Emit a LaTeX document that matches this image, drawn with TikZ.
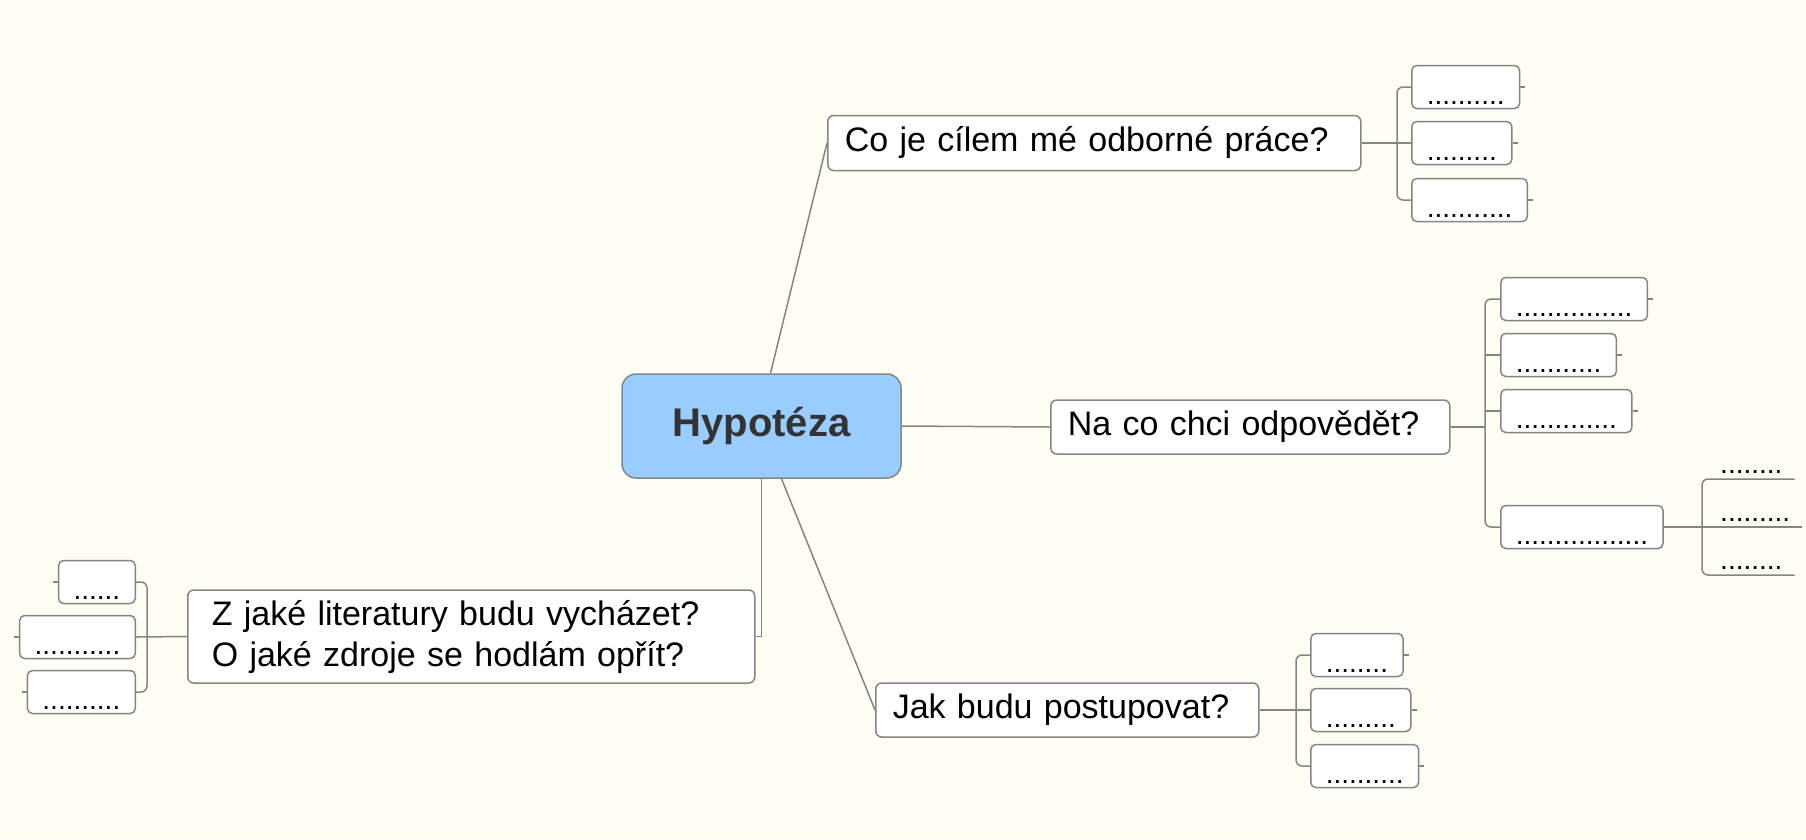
\documentclass[tikz,border=0pt]{standalone}
\usepackage{fontspec}
\setmainfont{Liberation Sans}
\usetikzlibrary{positioning,backgrounds}
\definecolor{papir}{HTML}{FEFEF4}
\definecolor{modra}{HTML}{99CCFF}
\definecolor{cara}{HTML}{858585}
\definecolor{pismo}{HTML}{333333}
\tikzstyle{vetev}=[draw=cara,line width=1.5pt]
\tikzstyle{otazka}=[rectangle,rounded corners=6pt,draw=cara,line width=1.5pt,fill=white,anchor=west,align=left,inner xsep=17pt,font=\fontsize{34}{41}\selectfont]
\tikzstyle{stred}=[rectangle,rounded corners=14pt,draw=cara,line width=1.5pt,fill=modra,text=pismo,minimum width=279pt,minimum height=104pt,font=\bfseries\fontsize{40}{48}\selectfont]
\tikzstyle{list}=[rectangle,rounded corners=5pt,draw=cara,line width=1.5pt,fill=white,minimum height=43pt,inner xsep=15pt,inner ysep=3pt,text height=35pt,text depth=0pt,anchor=west,font=\fontsize{28}{34}\selectfont]
\tikzstyle{listvlevo}=[list,anchor=east]
\tikzstyle{vetvicka}=[inner xsep=12pt,inner ysep=5pt,anchor=south west,font=\fontsize{28}{34}\selectfont]

\begin{document}
\begin{tikzpicture}[x=1pt,y=-1pt]
	\path[use as bounding box,fill=papir] (0,0) rectangle (1806,839);

	\node[stred] (hyp) at (761.5,426) {Hypotéza};
	\node[otazka,text width=499pt,minimum height=55pt] (coje) at (827,143) {Co je cílem mé odborné práce?};
	\node[otazka,text width=365pt,minimum height=54pt] (naco) at (1050,427) {Na co chci odpovědět?};
	\node[otazka,text width=349pt,minimum height=54pt] (jak) at (875,710) {Jak budu postupovat?};
	\node[otazka,inner xsep=24pt,text width=519pt,minimum height=93pt] (zdroje) at (187,636.5)
		{Z jaké literatury budu vycházet?\\O jaké zdroje se hodlám opřít?};

	% listy
	\node[list] (L1) at (1411,87) {..........};
	\node[list] (L2) at (1411,143) {.........};
	\node[list] (L3) at (1411,200) {...........};
	\node[list] (M1) at (1500,299) {...............};
	\node[list] (M2) at (1500,355) {...........};
	\node[list] (M3) at (1500,411) {.............};
	\node[list] (M4) at (1500,527) {.................};
	\node[list] (J1) at (1310,655) {........};
	\node[list] (J2) at (1310,710) {.........};
	\node[list] (J3) at (1310,766) {..........};
	\node[listvlevo] (Z1) at (136,582) {......};
	\node[listvlevo] (Z2) at (136,637) {...........};
	\node[listvlevo] (Z3) at (136,692) {..........};
	\node[vetvicka] (N1) at (1708,479) {........};
	\node[vetvicka] (N2) at (1708,527) {.........};
	\node[vetvicka] (N3) at (1708,575) {........};

	\coordinate (cobr) at (1397,143);
	\coordinate (nabr) at (1485,427);
	\coordinate (jabr) at (1296,710);
	\coordinate (zbr) at (147,637);
	\coordinate (m4br) at (1702,527);

	\begin{scope}[vetev]
		\draw ([xshift=9pt]hyp.north) -- (coje.west);
		\draw (hyp.east) -- (naco.west);
		\draw ([xshift=20pt]hyp.south) -- (jak.west);
		\draw (hyp.south) |- (zdroje.east);

		\draw (coje.east) -- (L2.west);
		\draw[rounded corners=6pt] (L1.west) -| (cobr) |- (L3.west);
		\draw (naco.east) -- (nabr);
		\draw[rounded corners=6pt] (M1.west) -| (nabr) |- (M4.west);
		\draw (M2.west) -- (M2.west -| nabr);
		\draw (M3.west) -- (M3.west -| nabr);
		\draw (jak.east) -- (J2.west);
		\draw[rounded corners=6pt] (J1.west) -| (jabr) |- (J3.west);
		\draw (zdroje.west) -- (Z2.east);
		\draw[rounded corners=6pt] (Z1.east) -| (zbr) |- (Z3.east);
		\draw (M4.east) -- (N2.south east);
		\draw[rounded corners=6pt] (N1.south east) -| (m4br) |- (N3.south east);

		\foreach \n in {L1,L2,L3,M1,M2,M3,J1,J2,J3}
			\draw (\n.east) -- ++(5,0);
		\foreach \n in {Z1,Z2,Z3}
			\draw (\n.west) -- ++(-5,0);
	\end{scope}
\end{tikzpicture}
\end{document}
